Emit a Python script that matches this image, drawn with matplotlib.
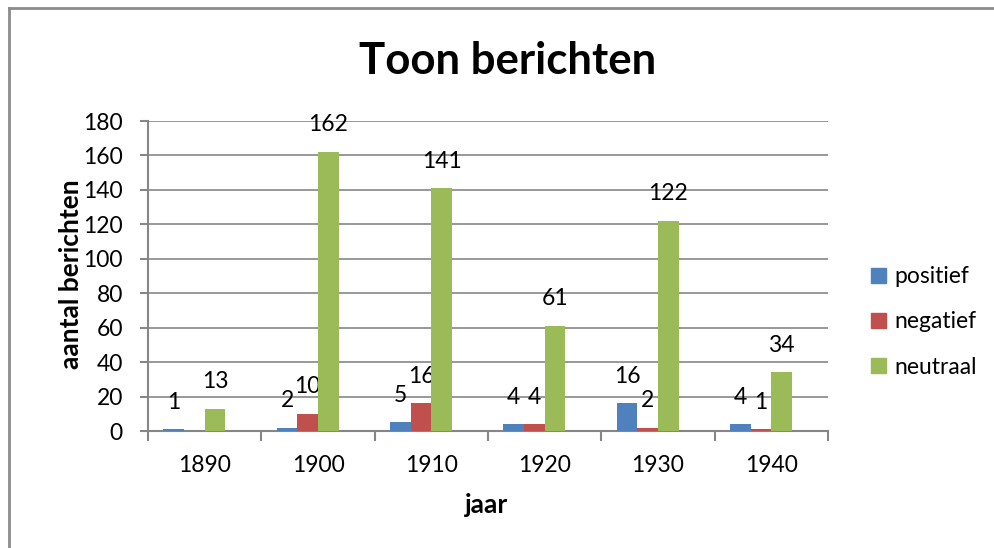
import matplotlib.pyplot as plt
import numpy as np
from matplotlib.lines import Line2D

# Toon berichten per jaar
jaren = ['1890', '1900', '1910', '1920', '1930', '1940']
positief = [1, 2, 5, 4, 16, 4]
negatief = [np.nan, 10, 16, 4, 2, 1]
neutraal = [13, 162, 141, 61, 122, 34]

series = [('positief', positief, '#4F81BD'),
          ('negatief', negatief, '#C0504D'),
          ('neutraal', neutraal, '#9BBB59')]

plt.rcParams['font.family'] = ['Lato', 'DejaVu Sans']

fig = plt.figure(figsize=(9.95, 5.48), dpi=100)
ax = fig.add_axes([148 / 995, 1 - 431 / 548, 680 / 995, 310 / 548])

x = np.arange(len(jaren))
w = 1 / 5.5  # excel: 4 reeksen, gap 150%
for i, (naam, vals, kleur) in enumerate(series):
    pos = x + (i - 1.5) * w
    vals = np.array(vals, dtype=float)
    ax.bar(pos, np.nan_to_num(vals), width=w, color=kleur, label=naam, zorder=3)
    for p, v in zip(pos, vals):
        if np.isnan(v):
            continue
        ax.annotate(str(int(v)), (p, v), xytext=(0, 19.5), textcoords='offset points',
                    ha='center', va='center', fontsize=16.5)

ax.set_ylim(0, 180)
ax.set_yticks(range(0, 181, 20))
ax.set_xlim(-0.5, len(jaren) - 0.5)
ax.set_xticks(x)
ax.set_xticklabels(jaren)
ax.set_xticks(np.arange(-0.5, len(jaren)), minor=True)
ax.tick_params(axis='x', which='major', length=0, pad=17, labelsize=16.5)
ax.tick_params(axis='x', which='minor', length=7, width=1.5, color='#868686')
ax.tick_params(axis='y', length=6, width=1.5, color='#868686', labelsize=16.5, pad=12)
ax.grid(axis='y', color='#868686', linewidth=1.2, zorder=0)

for s in ['top', 'right']:
    ax.spines[s].set_visible(False)
for s in ['left', 'bottom']:
    ax.spines[s].set_color('#868686')
    ax.spines[s].set_linewidth(1.5)

fig.text(71 / 995, 1 - 274 / 548, 'aantal berichten', rotation=90, ha='center', va='center',
         fontsize=19, fontweight='bold')
fig.text(487 / 995, 1 - 505 / 548, 'jaar', ha='center', va='center',
         fontsize=19, fontweight='bold')
fig.text(508 / 995, 1 - 61 / 548, 'Toon berichten', ha='center', va='center',
         fontsize=31.5, fontweight='bold')

handles = [plt.Rectangle((0, 0), 1, 1, color=k) for _, _, k in series]
fig.legend(handles, [n for n, _, _ in series], loc='center left',
           bbox_to_anchor=(871 / 995, 1 - 322 / 548), frameon=False, borderpad=0,
           borderaxespad=0, fontsize=16.5, handlelength=0.65, handleheight=0.65,
           handletextpad=0.35, labelspacing=1.05)

# rand van de grafiek
fig.add_artist(Line2D([9 / 995, 9 / 995], [0, 1 - 8 / 548], transform=fig.transFigure,
                      color='#8c8c8c', linewidth=2))
fig.add_artist(Line2D([9 / 995, 1], [1 - 8 / 548, 1 - 8 / 548], transform=fig.transFigure,
                      color='#8c8c8c', linewidth=2))

fig.savefig('out.png', dpi=100)
